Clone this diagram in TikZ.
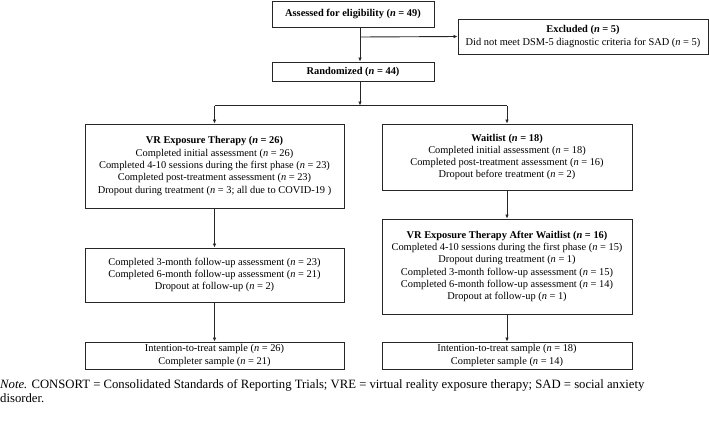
\documentclass[tikz,border=0pt]{standalone}
\usepackage{fontspec}
\setmainfont{Liberation Serif}
\usetikzlibrary{arrows.meta}
\tikzset{
  box/.style={draw=black!85, line width=0.9pt, align=center, inner sep=0pt,
    font=\fontsize{10.4}{12.3}\selectfont},
  arr/.style={draw=black!85, line width=0.9pt, -{Latex[length=4pt,width=3.6pt]}},
  ln/.style={draw=black!85, line width=0.9pt},
}
\newcommand{\nn}{\textit{n}}
\begin{document}
\begin{tikzpicture}[x=1pt,y=-1pt]
\useasboundingbox (0,0) rectangle (709,426);
\node[box, minimum width=162pt, minimum height=26pt] (elig) at (353,14) {\textbf{Assessed for eligibility (\nn{} = 49)}};
\node[box, minimum width=250pt, minimum height=35pt] (excl) at (583,36.5) {\textbf{Excluded (\nn{} = 5)}\\Did not meet DSM-5 diagnostic criteria for SAD (\nn{} = 5)};
\node[box, minimum width=162pt, minimum height=19pt] (rand) at (353,71.5) {\textbf{Randomized (\nn{} = 44)}};
\node[box, minimum width=259pt, minimum height=84pt] (vr) at (214.5,166) {\textbf{VR Exposure Therapy (\nn{} = 26)}\\Completed initial assessment (\nn{} = 26)\\Completed 4-10 sessions during the first phase (\nn{} = 23)\\Completed post-treatment assessment (\nn{} = 23)\\Dropout during treatment (\nn{} = 3; all due to COVID-19 )};
\node[box, minimum width=250pt, minimum height=66pt] (wl) at (507,157) {\textbf{Waitlist (\nn{} = 18)}\\Completed initial assessment (\nn{} = 18)\\Completed post-treatment assessment (\nn{} = 16)\\Dropout before treatment (\nn{} = 2)};
\node[box, minimum width=259pt, minimum height=54pt] (fu) at (214.5,275) {Completed 3-month follow-up assessment (\nn{} = 23)\\Completed 6-month follow-up assessment (\nn{} = 21)\\Dropout at follow-up (\nn{} = 2)};
\node[box, minimum width=250pt, minimum height=95pt] (vraw) at (507,266.5) {\textbf{VR Exposure Therapy After Waitlist (\nn{} = 16)}\\Completed 4-10 sessions during the first phase (\nn{} = 15)\\Dropout during treatment (\nn{} = 1)\\Completed 3-month follow-up assessment (\nn{} = 15)\\Completed 6-month follow-up assessment (\nn{} = 14)\\Dropout at follow-up (\nn{} = 1)};
\node[box, minimum width=259pt, minimum height=27pt] (ittl) at (214.5,355.5) {Intention-to-treat sample (\nn{} = 26)\\Completer sample (\nn{} = 21)};
\node[box, minimum width=250pt, minimum height=27pt] (ittr) at (507,355.5) {Intention-to-treat sample (\nn{} = 18)\\Completer sample (\nn{} = 14)};
\node[anchor=north west, align=left, inner sep=0pt, font=\fontsize{12.7}{14}\selectfont] (note) at (0,379) {\textit{Note.} CONSORT = Consolidated Standards of Reporting Trials; VRE = virtual reality exposure therapy; SAD = social anxiety\\disorder.};
\coordinate (spine) at (360,0);
\coordinate (branch) at (360,37);
\coordinate (split) at (360,105.5);
\coordinate (splitl) at (214.5,105.5);
\coordinate (splitr) at (507,105.5);
\draw[arr] (elig.south -| spine) -- (rand.north -| spine);
\draw[arr] (branch) -- (excl.west);
\draw[arr] (rand.south -| spine) -- (split);
\draw[ln] (splitl) -- (splitr);
\draw[arr] (splitl) -- (vr.north);
\draw[arr] (splitr) -- (wl.north);
\draw[arr] (vr.south) -- (fu.north);
\draw[arr] (wl.south) -- (vraw.north);
\draw[arr] (fu.south) -- (ittl.north);
\draw[arr] (vraw.south) -- (ittr.north);
\end{tikzpicture}
\end{document}
